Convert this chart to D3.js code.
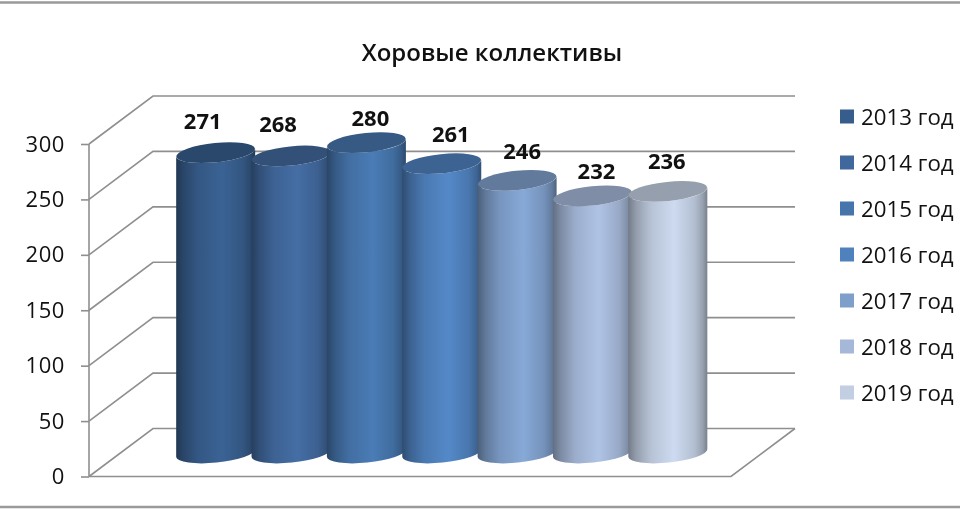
<!DOCTYPE html>
<html><head><meta charset="utf-8">
<script src="https://cdn.jsdelivr.net/npm/d3@7"></script>
<style>html,body{margin:0;padding:0;background:#fff}svg{display:block;filter:blur(.35px)}text{font-family:"Open Sans",sans-serif;fill:#111}</style>
</head><body><script>
const title = "Хоровые коллективы";
const categories = ["2013 год","2014 год","2015 год","2016 год","2017 год","2018 год","2019 год"];
const values = [271,268,280,261,246,232,236];
const colors = ["#375d8c","#41689c","#4675ac","#4f81bd","#7f9fcb","#a5b8d8","#c2cee2"];
const tickValues = [0,50,100,150,200,250,300];

const W=960,H=510, grid="#8f8f8f";
const svg=d3.select("body").append("svg").attr("width",W).attr("height",H);
const defs=svg.append("defs");

const yFront=d3.scaleLinear().domain([0,300]).range([476.5,144]);
const depth={x:64,y:-48};
const xFront=89, xBackEnd=795, xFrontEnd=731;
const yBar=d3.scaleLinear().domain([0,300]).range([453,120.5]);
const x=d3.scaleBand().domain(categories).range([178,705.5]).padding(0);
const rx=39.5, ry=9.6, tilt=4;
const shade=(c,k)=>{const r=d3.rgb(c);return d3.rgb(Math.min(255,r.r*k),Math.min(255,r.g*k),Math.min(255,r.b*k)).formatHex();};

// frame rules
svg.selectAll("line.frame").data([2.5,507]).join("line").attr("class","frame")
  .attr("x1",0).attr("x2",W).attr("y1",d=>d).attr("y2",d=>d)
  .attr("stroke","#9a9a9a").attr("stroke-width",2.5);

svg.append("text").attr("x",492).attr("y",61).attr("text-anchor","middle")
  .attr("font-size",24).attr("font-weight",600).text(title);

// walls
const g=svg.append("g").attr("fill","none").attr("stroke",grid).attr("stroke-width",1.6);
tickValues.forEach(v=>{
  const p=d3.path();
  p.moveTo(xFront,yFront(v));
  p.lineTo(xFront+depth.x,yFront(v)+depth.y);
  p.lineTo(xBackEnd,yFront(v)+depth.y);
  g.append("path").attr("d",p.toString());
});
const floor=d3.path();
floor.moveTo(xFront,yFront(0));floor.lineTo(xFrontEnd,yFront(0));floor.lineTo(xBackEnd,yFront(0)+depth.y);
g.append("path").attr("d",floor.toString());

// axis
const axis=d3.axisLeft(yFront).tickValues(tickValues).tickSize(8).tickPadding(16).tickFormat(d3.format("d"));
const ax=svg.append("g").attr("transform",`translate(${xFront},0)`).call(axis);
ax.select(".domain").attr("stroke",grid).attr("stroke-width",1.6).attr("d",`M0,${yFront(300)}V${yFront(0)}`);
ax.selectAll(".tick line").attr("stroke",grid).attr("stroke-width",1.6);
ax.selectAll(".tick text").attr("font-size",22).attr("fill","#111").style("font-family",'"Open Sans",sans-serif').style("letter-spacing",".6px");

// cylinders
const labelNudge=[[-13,-33],[-13,-33],[4,-26],[9,-31],[5,-30],[4,-26],[-1,-31]];
const data=categories.map((c,i)=>({c,i,v:values[i],col:colors[i]}));
data.forEach(d=>{
  const gr=defs.append("linearGradient").attr("id","cyl"+d.i).attr("x1",0).attr("x2",1).attr("y1",0).attr("y2",0);
  [[0,.6],[.1,.76],[.28,.94],[.58,1.06],[.84,.92],[.94,.78],[1,.62]].forEach(s=>
    gr.append("stop").attr("offset",s[0]).attr("stop-color",shade(d.col,s[1])));
});
const bars=svg.selectAll("g.bar").data(data).join("g").attr("class","bar");
const cx=d=>x(d.c)+x.bandwidth()/2;
bars.append("path").attr("fill",d=>`url(#cyl${d.i})`).attr("d",d=>{
  const c=cx(d),t=yBar(d.v),b=yBar(0);
  return `M${c-rx},${t+tilt}L${c-rx},${b+tilt}A${rx},${ry} -5.8 0 0 ${c+rx},${b-tilt}L${c+rx},${t-tilt}A${rx},${ry} -5.8 0 1 ${c-rx},${t+tilt}Z`;
});
bars.append("ellipse").attr("cx",0).attr("cy",0).attr("rx",rx).attr("ry",ry)
  .attr("transform",d=>`translate(${cx(d)},${yBar(d.v)}) rotate(-5.8)`)
  .attr("fill",d=>shade(d.col,.77));
bars.append("text").attr("text-anchor","middle").attr("dominant-baseline","central")
  .attr("x",d=>cx(d)+labelNudge[d.i][0]).attr("y",d=>yBar(d.v)+labelNudge[d.i][1])
  .attr("font-size",22).attr("font-weight",700).text(d=>d3.format("d")(d.v));

// legend
const yLeg=d3.scalePoint().domain(categories).range([116.5,392.5]);
const leg=svg.selectAll("g.leg").data(categories).join("g").attr("class","leg")
  .attr("transform",c=>`translate(840,${yLeg(c)})`);
leg.append("rect").attr("x",0).attr("y",-7).attr("width",14).attr("height",14).attr("fill",(c,i)=>colors[i]);
leg.append("text").attr("x",21).attr("y",0).attr("dominant-baseline","central").attr("font-size",22.3).text(c=>c);
</script></body></html>
